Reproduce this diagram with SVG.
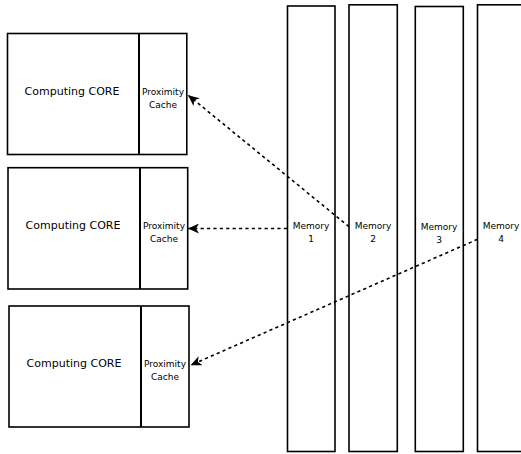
<svg xmlns="http://www.w3.org/2000/svg" width="521" height="454" viewBox="0 0 521 454">
<style>
.box{fill:#fff;stroke:#000;stroke-width:1.6}
.div{stroke:#000;stroke-width:2}
.core{font-family:"DejaVu Sans",sans-serif;font-size:11px;text-anchor:middle;fill:#000}
.small{font-family:"DejaVu Sans",sans-serif;font-size:9px;text-anchor:middle;fill:#000}
.conn{fill:none;stroke:#000;stroke-width:1.6;stroke-dasharray:3.2,3.2}
</style>
<defs>
<marker id="ah" viewBox="0 0 12 10" refX="11.5" refY="5" markerWidth="12" markerHeight="10" markerUnits="userSpaceOnUse" orient="auto">
<path d="M12,5 L1,0 L4,5 L1,10 Z" fill="#000"/>
</marker>
</defs>
<g id="mem1"><rect class="box" x="287.5" y="6" width="47.5" height="445.5"/><text class="small" x="311" y="229">Memory</text><text class="small" x="311" y="242">1</text></g>
<g id="mem2"><rect class="box" x="349" y="4.8" width="48.3" height="446.7"/><text class="small" x="373" y="229">Memory</text><text class="small" x="373" y="242">2</text></g>
<g id="mem3"><rect class="box" x="415.3" y="6.5" width="48" height="445"/><text class="small" x="439" y="230">Memory</text><text class="small" x="439" y="243">3</text></g>
<g id="mem4"><rect class="box" x="477.5" y="4.8" width="48" height="446.7"/><text class="small" x="501" y="229">Memory</text><text class="small" x="501" y="242">4</text></g>
<g id="core1"><rect class="box" x="7.5" y="33.5" width="179.3" height="121"/><line class="div" x1="139" y1="33.5" x2="139" y2="154.5"/><text class="core" x="72" y="95">Computing CORE</text><text class="small" x="163" y="95">Proximity</text><text class="small" x="163" y="108">Cache</text></g>
<g id="core2"><rect class="box" x="8" y="167.7" width="179.7" height="121.3"/><line class="div" x1="140" y1="167.7" x2="140" y2="289"/><text class="core" x="73" y="229">Computing CORE</text><text class="small" x="164" y="229">Proximity</text><text class="small" x="164" y="242">Cache</text></g>
<g id="core3"><rect class="box" x="9" y="306" width="180" height="121"/><line class="div" x1="141" y1="306" x2="141" y2="427"/><text class="core" x="74" y="367">Computing CORE</text><text class="small" x="165" y="367">Proximity</text><text class="small" x="165" y="380">Cache</text></g>
<g id="connectors">
<path class="conn" d="M349,226.7 L188.5,95.5" marker-end="url(#ah)"/>
<path class="conn" d="M287,228.5 L188.5,228.5" marker-end="url(#ah)"/>
<path class="conn" d="M477.5,239.3 L191,365" marker-end="url(#ah)"/>
</g>
</svg>
